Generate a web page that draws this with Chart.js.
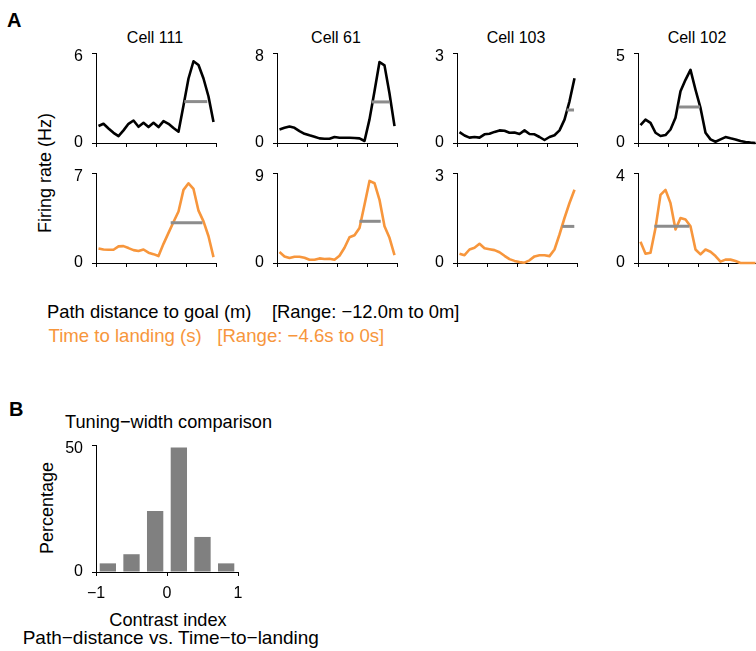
<!DOCTYPE html>
<html><head><meta charset="utf-8">
<script src="https://cdn.jsdelivr.net/npm/chart.js@4"></script>
<style>
html,body{margin:0;padding:0;background:#fff;}
body{width:756px;height:651px;overflow:hidden;position:relative;font-family:"Liberation Sans",Arial,sans-serif;color:#000;}
.t{position:absolute;white-space:pre;line-height:1;}
.rot{position:absolute;white-space:pre;line-height:1;transform:translate(-50%,-50%) rotate(-90deg);}
.ctr{position:absolute;white-space:pre;line-height:1;transform:translateX(-50%);}
canvas{position:absolute;}
</style></head><body>

<div class="t" style="left:7px;top:9.5px;font-size:20px;font-weight:bold;">A</div>
<div class="ctr" style="left:155px;top:29.5px;font-size:16px;">Cell 111</div>
<div class="ctr" style="left:336px;top:29.5px;font-size:16px;">Cell 61</div>
<div class="ctr" style="left:516px;top:29.5px;font-size:16px;">Cell 103</div>
<div class="ctr" style="left:697px;top:29.5px;font-size:16px;">Cell 102</div>
<div class="rot" style="left:45px;top:172.5px;font-size:18px;">Firing rate (Hz)</div>
<div class="t" style="left:47px;top:302.6px;font-size:18.4px;">Path distance to goal (m)    [Range: −12.0m to 0m]</div>
<div class="t" style="left:48.5px;top:326.5px;font-size:18.6px;color:#F7963C;">Time to landing (s)   [Range: −4.6s to 0s]</div>

<div class="t" style="left:9px;top:399px;font-size:20px;font-weight:bold;">B</div>
<div class="t" style="left:65px;top:412.7px;font-size:18.2px;">Tuning−width comparison</div>
<div class="rot" style="left:46.5px;top:508px;font-size:18px;">Percentage</div>
<div class="ctr" style="left:168px;top:611px;font-size:18.2px;">Contrast index</div>
<div class="ctr" style="left:170.8px;top:628.2px;font-size:19px;">Path−distance vs. Time−to−landing</div>

<script>
// ---- data ----
const xBins = [0.5,1.5,2.5,3.5,4.5,5.5,6.5,7.5,8.5,9.5,10.5,11.5,12.5,13.5,14.5,15.5,16.5,17.5,18.5,19.5,20.5,21.5,22.5,23.5];

const cell111Dist = [1.13,1.28,0.97,0.68,0.46,0.84,1.28,1.50,1.08,1.35,1.06,1.35,1.06,1.46,1.28,1.00,0.75,2.50,4.30,5.45,5.20,4.30,3.10,1.40];
const cell111Time = [1.13,1.05,1.03,1.03,1.29,1.31,1.16,1.00,0.93,1.05,0.80,0.69,0.54,1.49,2.34,3.19,4.01,5.69,6.20,5.76,4.07,3.24,2.08,0.46];
const cell61Dist  = [1.20,1.35,1.47,1.35,1.06,0.82,0.68,0.56,0.41,0.38,0.38,0.53,0.47,0.47,0.47,0.44,0.41,0.18,2.10,4.60,7.20,6.90,4.40,1.50];
const cell61Time  = [1.09,0.66,0.50,0.63,0.63,0.53,0.33,0.33,0.46,0.40,0.43,0.33,0.73,1.52,2.58,2.78,3.51,5.83,8.21,7.98,6.32,3.68,2.52,0.79];
const cell103Dist = [0.36,0.25,0.18,0.20,0.18,0.29,0.31,0.37,0.42,0.41,0.34,0.35,0.30,0.42,0.30,0.29,0.20,0.10,0.20,0.26,0.42,0.78,1.39,2.16];
const cell103Time = [0.31,0.26,0.45,0.51,0.64,0.49,0.46,0.43,0.36,0.24,0.13,0.07,0.03,0.01,0.09,0.22,0.26,0.26,0.23,0.45,0.95,1.50,2.00,2.44];
const cell102Dist = [0.99,1.30,1.12,0.57,0.39,0.44,0.75,1.40,2.87,3.51,4.06,2.96,1.95,0.57,0.20,0.07,0.20,0.33,0.26,0.20,0.11,0.06,0.02,0.00];
const cell102Time = [0.94,0.41,0.46,1.56,3.03,3.25,2.66,1.49,2.00,1.93,1.63,0.60,0.38,0.60,0.50,0.31,0.06,0.15,0.15,0.09,0.00,0.00,0.00,0.00];

// half-width markers: [start bin, end bin, level]
const cell111DistHalf = [17.66, 22.26, 2.76];
const cell111TimeHalf = [14.94, 21.30, 3.13];
const cell61DistHalf  = [18.94, 22.46, 3.65];
const cell61TimeHalf  = [16.50, 20.74, 4.17];
const cell103DistHalf = [21.94, 23.40, 1.10];
const cell103TimeHalf = [21.06, 23.46, 1.22];
const cell102DistHalf = [8.13, 12.40, 2.00];
const cell102TimeHalf = [3.27, 10.27, 1.63];

const yMaxDist = [6, 8, 3, 5];
const yMaxTime = [7, 9, 3, 4];

const contrastBins = [-0.833, -0.5, -0.167, 0.167, 0.5, 0.833];
const contrastPct  = [3.4, 7.0, 24.0, 49.0, 13.8, 3.4];

// ---- drawing ----
Chart.defaults.font.family = '"Liberation Sans", Arial, sans-serif';
Chart.defaults.color = '#000';
const BLACK = '#000000', ORANGE = '#F7963C', GRAY = '#8c8c8c';

function yAxis(ymax) {
  return {
    min: 0, max: ymax,
    ticks: { stepSize: ymax, padding: 9, color: '#000', font: { size: 16, lineHeight: 0.5 },
             callback: v => v === ymax ? ['', String(v)] : String(v) },
    grid: { drawOnChartArea: false, tickLength: 4, color: '#000', lineWidth: 1 },
    border: { display: true, color: '#000', width: 1 },
    afterFit: s => { s.width = 40; s.paddingTop = 0; s.paddingBottom = 0; }
  };
}

function lineChart(axisX, plotTop, ymax, values, color, half) {
  const c = document.createElement('canvas');
  c.width = 168; c.height = 106;
  c.style.left = (axisX - 40) + 'px';
  c.style.top = (plotTop - 8) + 'px';
  document.body.appendChild(c);
  new Chart(c, {
    type: 'line',
    data: { datasets: [
      { data: [{ x: half[0], y: half[2] }, { x: half[1], y: half[2] }],
        borderColor: GRAY, borderWidth: 3, pointRadius: 0, clip: false, borderCapStyle: 'butt' },
      { data: xBins.map((x, i) => ({ x: x, y: values[i] })),
        borderColor: color, borderWidth: 2.6, pointRadius: 0, clip: false, tension: 0,
        borderJoinStyle: 'round' }
    ]},
    options: {
      responsive: false, animation: false, events: [],
      layout: { padding: { top: 8, right: 8, left: 0, bottom: 0 } },
      plugins: { legend: { display: false }, tooltip: { enabled: false } },
      scales: {
        x: { type: 'linear', min: 0, max: 24,
             ticks: { display: false, stepSize: 6 },
             grid: { drawOnChartArea: false, tickLength: 4, color: '#000', lineWidth: 1 },
             border: { display: true, color: '#000', width: 1 },
             afterFit: s => { s.height = 8; s.paddingLeft = 0; s.paddingRight = 0; } },
        y: yAxis(ymax)
      }
    }
  });
}

const axisXs = [96, 277, 457, 638];
const distSets = [cell111Dist, cell61Dist, cell103Dist, cell102Dist];
const timeSets = [cell111Time, cell61Time, cell103Time, cell102Time];
const distHalf = [cell111DistHalf, cell61DistHalf, cell103DistHalf, cell102DistHalf];
const timeHalf = [cell111TimeHalf, cell61TimeHalf, cell103TimeHalf, cell102TimeHalf];
for (let k = 0; k < 4; k++) {
  lineChart(axisXs[k], 53, yMaxDist[k], distSets[k], BLACK, distHalf[k]);
  lineChart(axisXs[k], 173, yMaxTime[k], timeSets[k], ORANGE, timeHalf[k]);
}

// histogram (panel B)
(function () {
  const c = document.createElement('canvas');
  c.width = 192; c.height = 165;
  c.style.left = (96 - 40) + 'px';
  c.style.top = (445 - 8) + 'px';
  document.body.appendChild(c);
  new Chart(c, {
    type: 'bar',
    data: { datasets: [{
      data: contrastBins.map((x, i) => ({ x: x, y: contrastPct[i] })),
      backgroundColor: '#808080', borderWidth: 0,
      barPercentage: 0.69, categoryPercentage: 1
    }]},
    options: {
      responsive: false, animation: false, events: [],
      layout: { padding: { top: 8, right: 10, left: 0, bottom: 0 } },
      plugins: { legend: { display: false }, tooltip: { enabled: false } },
      scales: {
        x: { type: 'linear', min: -1, max: 1, offset: false,
             ticks: { stepSize: 1, padding: 8, maxRotation: 0, color: '#000', font: { size: 16 },
                      callback: v => v < 0 ? '\u2212' + Math.abs(v) : String(v) },
             grid: { offset: false, drawOnChartArea: false, tickLength: 4, color: '#000', lineWidth: 1 },
             border: { display: true, color: '#000', width: 1 },
             afterFit: s => { s.height = 30; s.paddingLeft = 0; s.paddingRight = 0; } },
        y: yAxis(50)
      }
    }
  });
})();
</script>
</body></html>
